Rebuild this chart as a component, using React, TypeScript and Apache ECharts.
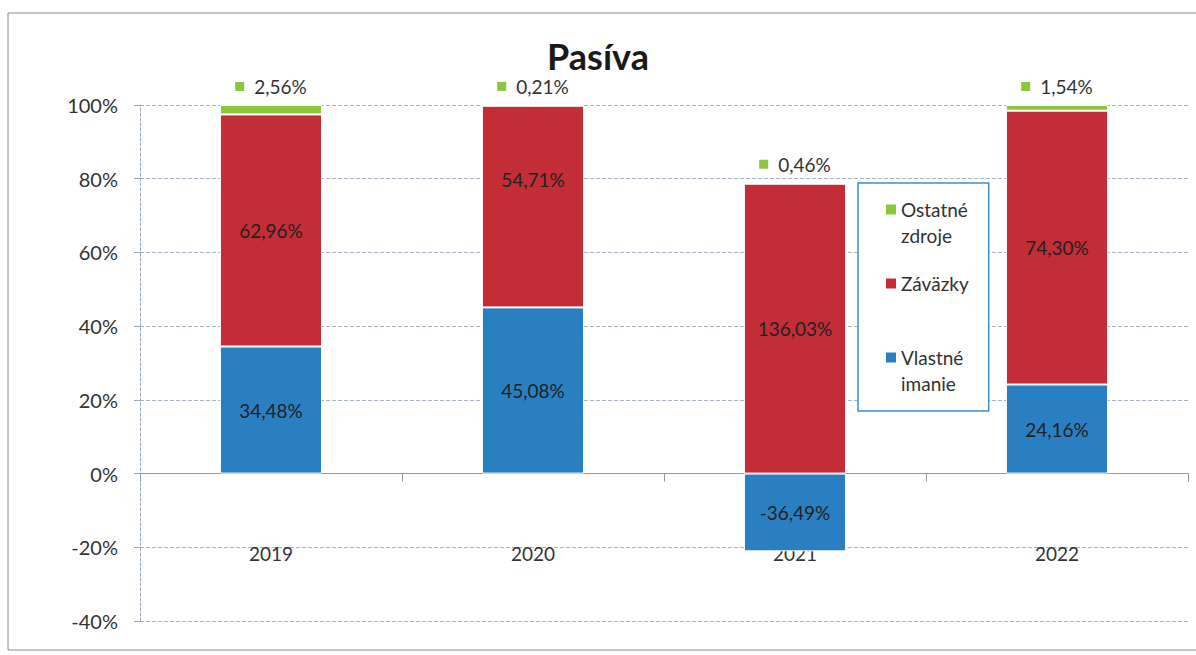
import React, { useEffect, useRef } from "react";
import * as echarts from "echarts";

const categories = ["2019", "2020", "2021", "2022"];
const vlastneImanie = [34.48, 45.08, -36.49, 24.16];
const zavazky = [62.96, 54.71, 136.03, 74.3];
const ostatneZdroje = [2.56, 0.21, 0.46, 1.54];
const yTicks = { min: -40, max: 100, interval: 20 };

const BLUE = "#2a7fc1";
const RED = "#c22d38";
const GREEN = "#8cc63f";
const FONT = "Lato, 'Open Sans', sans-serif";

const fmt = (v: number) => v.toFixed(2).replace(".", ",") + "%";

// Excel 100% stacked column normalises by the sum of absolute values
const totals = categories.map(
  (_, i) => Math.abs(vlastneImanie[i]) + Math.abs(zavazky[i]) + Math.abs(ostatneZdroje[i])
);
const norm = (arr: number[]) => arr.map((v, i) => (v / totals[i]) * 100);

export default function App() {
  const ref = useRef<HTMLDivElement>(null);
  useEffect(() => {
    if (!ref.current) return;
    const chart = echarts.init(ref.current, null, { renderer: "svg" });
    const insideLabel = {
      show: true,
      position: "inside",
      fontSize: 19,
      color: "#222",
      fontFamily: FONT,
      formatter: (p: any) => fmt(p.data.raw),
    };
    const mk = (name: string, raw: number[], color: string, extra: any = {}) => ({
      name,
      type: "bar",
      stack: "total",
      barWidth: "39%",
      itemStyle: { color, borderColor: "#ffffff", borderWidth: 1 },
      data: norm(raw).map((v, i) => ({ value: v, raw: raw[i] })),
      ...extra,
    });
    chart.setOption({
      animation: false,
      textStyle: { fontFamily: FONT },
      title: {
        text: "Pasíva",
        left: "center",
        top: 33,
        textStyle: { fontSize: 36, fontWeight: "bold", color: "#1a1a1a", fontFamily: FONT },
      },
      graphic: [
        {
          type: "rect",
          shape: { x: 8, y: 13, width: 1200, height: 637 },
          style: { fill: "none", stroke: "#8a8a8a", lineWidth: 1 },
          silent: true,
        },
      ],
      legend: {
        orient: "vertical",
        left: 858,
        top: 183,
        padding: [17, 20, 18, 22],
        itemGap: 29,
        itemWidth: 0,
        itemHeight: 0,
        borderColor: "#3a8ed0",
        borderWidth: 1.5,
        backgroundColor: "#ffffff",
        data: ["Ostatné zdroje", "Záväzky", "Vlastné imanie"],
        formatter: (name: string) => {
          if (name === "Ostatné zdroje") return "{g|}{t|Ostatné}\n{p|}{t|zdroje}";
          if (name === "Záväzky") return "{r|}{t|Záväzky}\n{p|}{t| }";
          return "{b|}{t|Vlastné}\n{p|}{t|imanie}";
        },
        textStyle: {
          rich: {
            g: { width: 10, height: 10, backgroundColor: GREEN },
            r: { width: 10, height: 10, backgroundColor: RED },
            b: { width: 10, height: 10, backgroundColor: BLUE },
            p: { width: 10, height: 10 },
            t: { fontSize: 19, lineHeight: 26, color: "#333", padding: [0, 0, 0, 5], fontFamily: FONT },
          },
        },
      },
      grid: { left: 140, right: 8, top: 105, bottom: 34, outerBoundsMode: "none" },
      xAxis: {
        type: "category",
        data: categories,
        axisLine: { onZero: true, lineStyle: { color: "#8a9aaa", width: 1 } },
        axisTick: { show: true, length: 8, lineStyle: { color: "#8a9aaa" } },
        axisLabel: { margin: -77, fontSize: 19, color: "#333", fontFamily: FONT },
      },
      yAxis: {
        type: "value",
        min: yTicks.min,
        max: yTicks.max,
        interval: yTicks.interval,
        axisLine: { show: true, lineStyle: { color: "#9aaaba", type: [3, 2] } },
        axisTick: { show: true, length: 6, lineStyle: { color: "#9aaaba" } },
        splitLine: { lineStyle: { color: "#a6b6c6", type: [4, 2] } },
        axisLabel: {
          margin: 22,
          fontSize: 20,
          color: "#333",
          fontFamily: FONT,
          formatter: (v: number) => v + "%",
        },
      },
      series: [
        mk("Vlastné imanie", vlastneImanie, BLUE, { label: insideLabel }),
        {
          ...mk("Záväzky", zavazky, RED),
          data: norm(zavazky).map((v, i) => ({
            value: v,
            raw: zavazky[i],
            label: i === 1 ? { offset: [0, -27] } : undefined,
          })),
          label: insideLabel,
        },
        mk("Ostatné zdroje", ostatneZdroje, GREEN, {
          label: {
            show: true,
            position: "top",
            distance: 9,
            formatter: (p: any) => "{sq|}{v|" + fmt(p.data.raw) + "}",
            rich: {
              sq: { width: 9, height: 9, backgroundColor: GREEN },
              v: { fontSize: 19, color: "#333", padding: [0, 0, 0, 10], fontFamily: FONT },
            },
          },
        }),
      ],
    });
    return () => chart.dispose();
  }, []);
  return (
    <div
      ref={ref}
      style={{ position: "fixed", left: 0, top: 0, width: 1196, height: 655, background: "#fff" }}
    />
  );
}
